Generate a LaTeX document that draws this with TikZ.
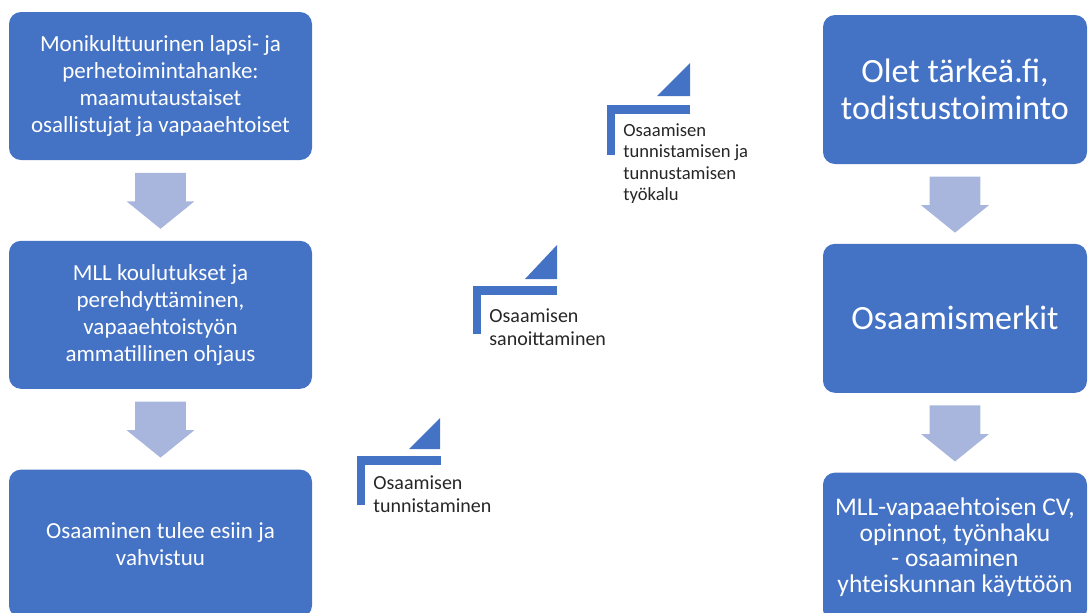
\documentclass[tikz,border=0pt]{standalone}
\usepackage{fontspec}
\setmainfont{Carlito}
\usepackage{tikz}
\usetikzlibrary{calc,positioning,shapes.arrows}
\definecolor{laatikkosin}{HTML}{4472C4}
\definecolor{nuolisin}{RGB}{168,181,221}
\definecolor{tekstiharmaa}{HTML}{262626}

\begin{document}
\begin{tikzpicture}[x=0.5pt,y=-0.5pt,
    laatikko/.style={fill=laatikkosin,rounded corners=6pt,text=white,align=center,inner sep=0pt},
    vasen/.style={laatikko,minimum width=151.5pt,minimum height=74pt,font=\fontsize{11.5pt}{13.5pt}\selectfont},
    oikea/.style={laatikko,minimum width=132pt,minimum height=74.5pt},
    nuoli/.style={single arrow,fill=nuolisin,rotate=-90,anchor=tail,minimum height=28pt,
        inner xsep=0pt,inner ysep=12.5pt,single arrow head extend=4.25pt,single arrow tip angle=102},
    ikoni/.style={fill=laatikkosin},
    tunniste/.style={anchor=north west,align=left,inner sep=0pt,text=tekstiharmaa}]
    \useasboundingbox (0,0) rectangle (1088,612);
    \clip (0,0) rectangle (1088,612);
    \node[vasen] (l1) at (160.5,86) {Monikulttuurinen lapsi- ja\\perhetoimintahanke:\\maamutaustaiset\\osallistujat ja vapaaehtoiset};
    \node[vasen,below=40pt of l1] (l2) {MLL koulutukset ja\\perehdyttäminen,\\vapaaehtoistyön\\ammatillinen ohjaus};
    \node[vasen,below=40pt of l2] (l3) {Osaaminen tulee esiin ja\\vahvistuu};
    \node[nuoli] (n1) at ($(l1.south)!0.15!(l2.north)$) {};
    \node[nuoli] (n2) at ($(l2.south)!0.15!(l3.north)$) {};
    \node[oikea,font=\fontsize{17pt}{18.5pt}\selectfont] (r1) at (955,89.5) {Olet tärkeä.fi,\\todistustoiminto};
    \node[oikea,below=39.5pt of r1,font=\fontsize{17pt}{18.5pt}\selectfont] (r2) {Osaamismerkit};
    \node[oikea,below=39.5pt of r2,font=\fontsize{12.75pt}{12.75pt}\selectfont] (r3) {MLL-vapaaehtoisen CV,\\opinnot, työnhaku\\- osaaminen\\yhteiskunnan käyttöön};
    \node[nuoli] (n3) at ($(r1.south)!0.15!(r2.north)$) {};
    \node[nuoli] (n4) at ($(r2.south)!0.15!(r3.north)$) {};
    \begin{scope}[shift={(357,456)}]
        \fill[ikoni] (0,0) rectangle (84,9);
        \fill[ikoni] (0,0) rectangle (8,49);
        \fill[ikoni] (52,-7) -- (83,-7) -- (83,-38) -- cycle;
        \node[tunniste,font=\fontsize{10pt}{11.75pt}\selectfont] (k1) at (16,19) {Osaamisen\\tunnistaminen};
    \end{scope}
    \begin{scope}[shift={(473,286)}]
        \fill[ikoni] (0,0) rectangle (84,9);
        \fill[ikoni] (0,0) rectangle (8,48);
        \fill[ikoni] (52,-7) -- (84,-7) -- (84,-41) -- cycle;
        \node[tunniste,font=\fontsize{10pt}{11.75pt}\selectfont] (k2) at (16,22) {Osaamisen\\sanoittaminen};
    \end{scope}
    \begin{scope}[shift={(607,105)}]
        \fill[ikoni] (0,0) rectangle (83,9);
        \fill[ikoni] (0,0) rectangle (8,50);
        \fill[ikoni] (50,-9) -- (83,-9) -- (83,-42) -- cycle;
        \node[tunniste,font=\fontsize{9.3pt}{10.75pt}\selectfont] (k3) at (16,18) {Osaamisen\\tunnistamisen ja\\tunnustamisen\\työkalu};
    \end{scope}
\end{tikzpicture}
\end{document}
